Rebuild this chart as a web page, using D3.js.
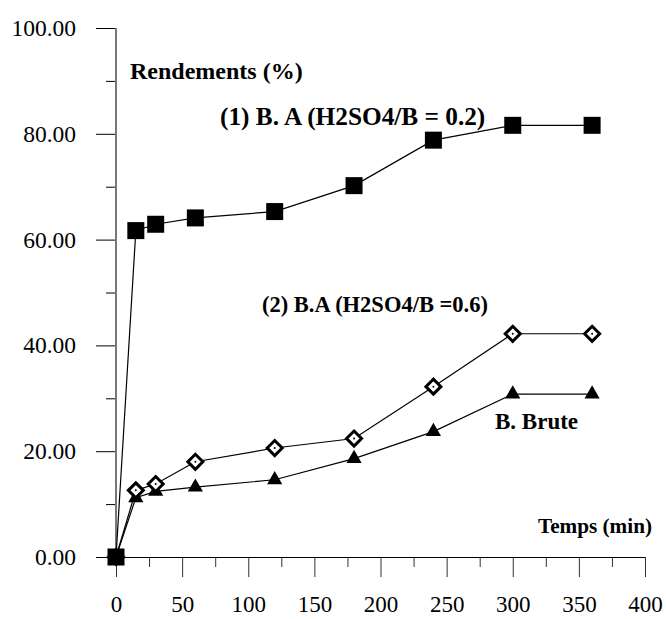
<!DOCTYPE html>
<html>
<head>
<meta charset="utf-8">
<script src="https://cdn.jsdelivr.net/npm/d3@7"></script>
<style>
body { margin: 0; background: #fff; }
svg text { font-family: "Liberation Serif", "DejaVu Serif", "Times New Roman", serif !important; }
</style>
</head>
<body>
<script>
const w = 666;
const h = 619;

// temps (min)
const temps = [0, 15, 30, 60, 120, 180, 240, 300, 360];
// rendements (%)
const ba02 = [0, 61.7, 62.9, 64.1, 65.3, 70.2, 78.8, 81.6, 81.6];
const ba06 = [0, 12.6, 13.8, 18.0, 20.6, 22.4, 32.2, 42.2, 42.2];
const brute = [0, 11.2, 12.4, 13.2, 14.6, 18.6, 23.7, 30.8, 30.8];

const xTicks = [0, 50, 100, 150, 200, 250, 300, 350, 400];
const yTicks = [0, 20, 40, 60, 80, 100];

const x = d3.scaleLinear().domain([0, 400]).range([116, 645]);
const y = d3.scaleLinear().domain([0, 100]).range([557, 28]);

const svg = d3.select('body').append('svg')
	.attr('width', w)
	.attr('height', h);

// axe Y
const yAxis = svg.append('g')
	.attr('transform', `translate(${x(0)},0)`)
	.call(d3.axisLeft(y).tickValues(yTicks).tickSize(20).tickPadding(20)
		.tickFormat(d3.format('.2f')));
yAxis.select('.domain').remove();
yAxis.selectAll('text').attr('font-size', 23.5).attr('fill', '#000');
yAxis.selectAll('line').attr('stroke', '#000');

const yMinor = svg.append('g')
	.attr('transform', `translate(${x(0)},0)`)
	.call(d3.axisLeft(y).tickValues([10, 30, 50, 70, 90]).tickSize(10).tickFormat(''));
yMinor.select('.domain').remove();
yMinor.selectAll('line').attr('stroke', '#000');

svg.append('line')
	.attr('x1', x(0)).attr('x2', x(0))
	.attr('y1', y(100)).attr('y2', y(0))
	.attr('stroke', '#777')
	.attr('stroke-width', 2);

// axe X
const xAxis = svg.append('g')
	.attr('transform', `translate(0,${y(0)})`)
	.call(d3.axisBottom(x).tickValues(xTicks).tickSize(20).tickPadding(19));
xAxis.select('.domain').remove();
xAxis.selectAll('text').attr('font-size', 23).attr('fill', '#000');
xAxis.selectAll('line').attr('stroke', '#333');

const xMinor = svg.append('g')
	.attr('transform', `translate(0,${y(0)})`)
	.call(d3.axisBottom(x).tickValues([25, 75, 125, 175, 225, 275, 325, 375]).tickSize(10).tickFormat(''));
xMinor.select('.domain').remove();
xMinor.selectAll('line').attr('stroke', '#333');

svg.append('line')
	.attr('x1', x(0) - 20).attr('x2', x(400))
	.attr('y1', y(0) + 0.5).attr('y2', y(0) + 0.5)
	.attr('stroke', '#000');

// courbes
const line = d3.line()
	.x((d, i) => x(temps[i]))
	.y(d => y(d));

[brute, ba06, ba02].forEach(s => {
	svg.append('path')
		.attr('d', line(s))
		.attr('fill', 'none')
		.attr('stroke', '#000')
		.attr('stroke-width', 1.2);
});

// B. Brute : triangles
svg.selectAll('.tri')
	.data(brute)
	.enter()
	.append('path')
	.attr('class', 'tri')
	.attr('d', d3.symbol(d3.symbolTriangle, 100))
	.attr('transform', (d, i) => `translate(${x(temps[i])},${y(d)})`)
	.attr('fill', '#000');

// (2) : losanges
svg.selectAll('.dia')
	.data(ba06)
	.enter()
	.append('g')
	.attr('class', 'dia')
	.attr('transform', (d, i) => `translate(${x(temps[i])},${y(d)})`)
	.each(function () {
		const g = d3.select(this);
		g.append('path')
			.attr('d', 'M0,-7.5L7.5,0L0,7.5L-7.5,0Z')
			.attr('fill', '#fff')
			.attr('stroke', '#000')
			.attr('stroke-width', 3);
		g.append('circle').attr('r', 1).attr('fill', '#000');
	});

// (1) : carrés
svg.selectAll('.sq')
	.data(ba02)
	.enter()
	.append('rect')
	.attr('class', 'sq')
	.attr('x', (d, i) => x(temps[i]) - 8.5)
	.attr('y', d => y(d) - 8.5)
	.attr('width', 17)
	.attr('height', 17)
	.attr('fill', '#000');

// textes
const labels = [
	{ t: 'Rendements (%)', x: 130, y: 79, s: 24 },
	{ t: '(1) B. A (H2SO4/B = 0.2)', x: 220, y: 125, s: 25.3 },
	{ t: '(2) B.A (H2SO4/B =0.6)', x: 262, y: 312, s: 22.5 },
	{ t: 'B. Brute', x: 495, y: 429, s: 23 },
	{ t: 'Temps (min)', x: 538, y: 533, s: 21.2 }
];
svg.selectAll('.lbl')
	.data(labels)
	.enter()
	.append('text')
	.attr('class', 'lbl')
	.attr('x', d => d.x)
	.attr('y', d => d.y)
	.attr('font-size', d => d.s)
	.attr('font-weight', 'bold')
	.text(d => d.t);
</script>
</body>
</html>
